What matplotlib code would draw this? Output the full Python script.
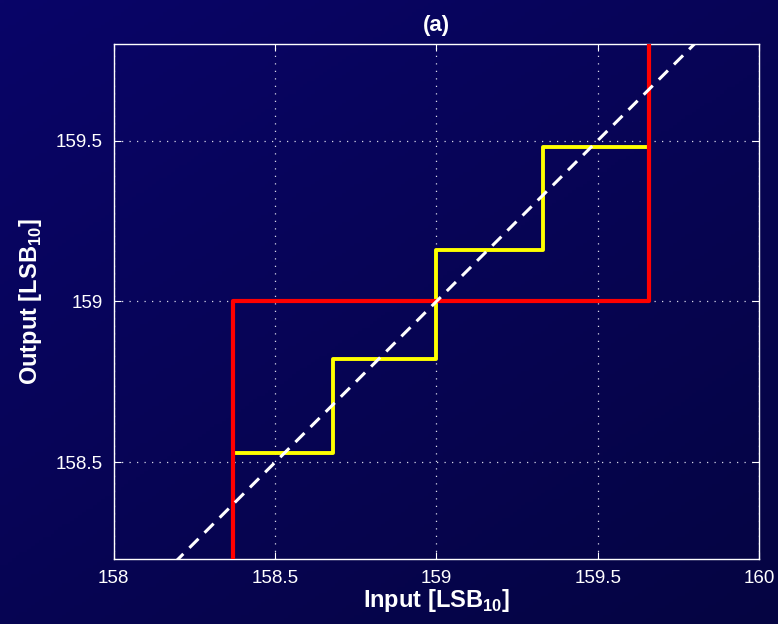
"""Quantizer transfer characteristic: coarse vs fine steps against the ideal line."""
import matplotlib
matplotlib.use("Agg")
import matplotlib.pyplot as plt
import numpy as np

plt.rcParams["font.family"] = ["Liberation Sans", "DejaVu Sans"]
plt.rcParams["mathtext.fontset"] = "custom"
plt.rcParams["mathtext.rm"] = "Liberation Sans"
plt.rcParams["mathtext.bf"] = "Liberation Sans:bold"

# ideal transfer (y = x)
ideal_x = [158.0, 160.0]
ideal_y = [158.0, 160.0]

# coarse quantizer (red)
coarse_x = [158.37, 158.37, 159.66, 159.66]
coarse_y = [158.2, 159.0, 159.0, 159.8]

# fine quantizer (yellow)
fine_x = [158.37, 158.68, 158.68, 159.0, 159.0, 159.33, 159.33, 159.66]
fine_y = [158.53, 158.53, 158.82, 158.82, 159.16, 159.16, 159.48, 159.48]

xticks = [158, 158.5, 159, 159.5, 160]
yticks = [158.5, 159, 159.5]

fig = plt.figure(figsize=(7.78, 6.24), dpi=100)

# dark navy gradient background
bg = fig.add_axes([0, 0, 1, 1], zorder=-10)
gy, gx = np.mgrid[0:1:200j, 0:1:200j]
t = 0.55 * gy + 0.45 * gx
top = np.array([9, 4, 104]) / 255
bot = np.array([5, 5, 66]) / 255
img = top[None, None, :] * (1 - t[..., None]) + bot[None, None, :] * t[..., None]
bg.imshow(img, aspect="auto", extent=[0, 1, 0, 1])
bg.set_axis_off()

ax = fig.add_axes([0.1461, 0.1042, 0.8295, 0.8253])
ax.set_facecolor("none")

ax.plot(fine_x, fine_y, color="#ffff00", linewidth=2.8, zorder=3)
ax.plot(coarse_x, coarse_y, color="#ff0000", linewidth=3.0, zorder=4)
ax.plot(ideal_x, ideal_y, color="white", linewidth=2.2, linestyle=(0, (4.2, 2.8)), zorder=5)

ax.set_xlim(158, 160)
ax.set_ylim(158.2, 159.8)
ax.set_xticks(xticks)
ax.set_xticklabels(["158", "158.5", "159", "159.5", "160"])
ax.set_yticks(yticks)
ax.set_yticklabels(["158.5", "159", "159.5"])

ax.grid(True, color="#d8d8e8", linestyle=(0, (1, 5)), linewidth=0.9)
for s in ax.spines.values():
    s.set_color("white")
    s.set_linewidth(1.0)
ax.tick_params(direction="in", colors="white", labelsize=13.5, length=5,
               top=True, right=True, pad=8)

ax.set_xlabel(r"Input [LSB$_{\mathbf{10}}$]", color="white", fontsize=17,
              fontweight="bold", labelpad=0)
ax.set_ylabel(r"Output [LSB$_{\mathbf{10}}$]", color="white", fontsize=17,
              fontweight="bold", labelpad=8)
ax.set_title("(a)", color="white", fontsize=16, fontweight="bold", pad=9)

fig.savefig("out.png", dpi=100)
